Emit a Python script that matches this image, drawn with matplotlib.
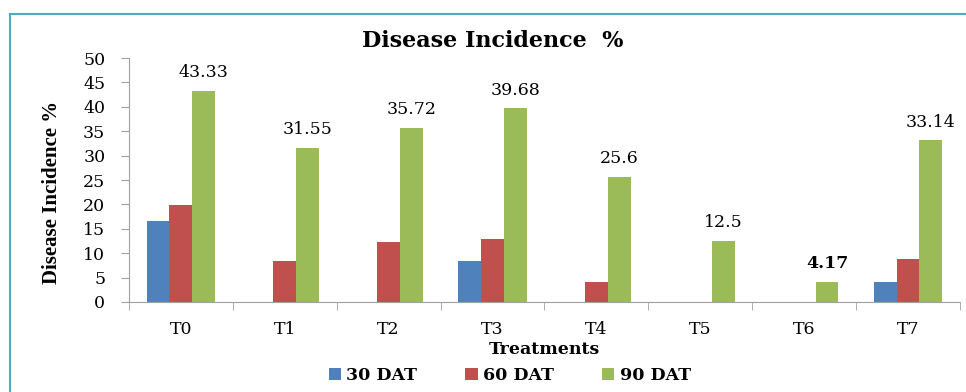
import numpy as np
import matplotlib
matplotlib.use('Agg')
from matplotlib import pyplot as plt
from matplotlib.lines import Line2D

treatments = ['T0', 'T1', 'T2', 'T3', 'T4', 'T5', 'T6', 'T7']
dat30 = [16.67, 0, 0, 8.33, 0, 0, 0, 4.17]
dat60 = [19.8, 8.33, 12.3, 13.0, 4.17, 0, 0, 8.75]
dat90 = [43.33, 31.55, 35.72, 39.68, 25.6, 12.5, 4.17, 33.14]
labels90 = ['43.33', '31.55', '35.72', '39.68', '25.6', '12.5', '4.17', '33.14']

plt.rcParams['font.family'] = ['DejaVu Serif']

fig = plt.figure(figsize=(9.66, 3.92), dpi=100)
ax = fig.add_axes([0.1335, 0.2296, 0.8603, 0.6224])

x = np.arange(len(treatments))
w = 0.22
ax.bar(x - w, dat30, w, color='#4F81BD', label='30 DAT')
ax.bar(x, dat60, w, color='#C0504D', label='60 DAT')
ax.bar(x + w, dat90, w, color='#9BBB59', label='90 DAT')

for i, v in enumerate(dat90):
    bold = 'bold' if treatments[i] == 'T6' else 'normal'
    ax.text(x[i] + w, v + 2.0, labels90[i], ha='center', va='bottom',
            fontsize=12.5, fontweight=bold)

ax.set_xlim(-0.5, len(treatments) - 0.5)
ax.set_ylim(0, 50)
ax.set_yticks(range(0, 51, 5))
ax.set_xticks(x)
ax.set_xticklabels(treatments, fontsize=12.5)
ax.set_xticks(np.arange(-0.5, len(treatments), 1), minor=True)
ax.tick_params(axis='x', which='major', length=0, pad=14)
ax.tick_params(axis='x', which='minor', length=6, color='#A0A0A0', direction='out')
ax.tick_params(axis='y', labelsize=12.5, length=6, color='#A0A0A0', pad=11)

for s in ['top', 'right']:
    ax.spines[s].set_visible(False)
ax.spines['left'].set_color('#A0A0A0')
ax.spines['bottom'].set_color('#A0A0A0')

ax.set_title('Disease Incidence  %', fontsize=16, fontweight='bold', x=0.438, pad=8)
ax.set_ylabel('Disease Incidence %', fontsize=15, fontweight='bold',
              family='Liberation Serif')
ax.yaxis.set_label_coords(-0.081, 0.45)
ax.set_xlabel('Treatments', fontsize=12.5, fontweight='bold', labelpad=2)

leg = ax.legend(loc='center', bbox_to_anchor=(0.458, -0.30), ncol=3,
                frameon=False, prop={'weight': 'bold', 'size': 12.5},
                handlelength=0.7, handleheight=0.7, handletextpad=0.3,
                columnspacing=2.8, borderaxespad=0)

bx = 10 / 966
by = 1 - 14 / 392
fig.add_artist(Line2D([bx, 1], [by, by], color='#4BACC6', lw=1.5))
fig.add_artist(Line2D([bx, bx], [0, by], color='#4BACC6', lw=1.5))

fig.savefig('out.png', dpi=100)
